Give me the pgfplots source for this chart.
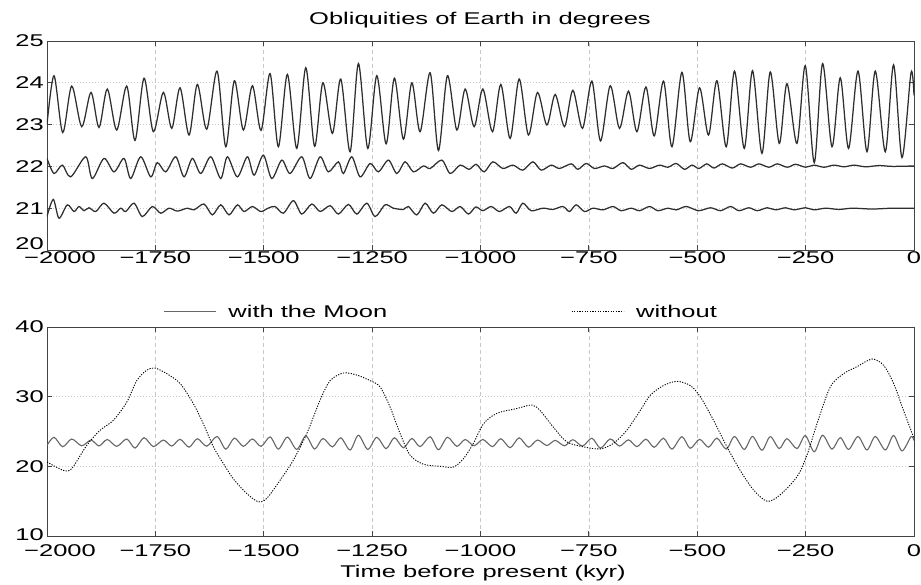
\documentclass[border=0pt]{standalone}
\usepackage{fontspec}
\setmainfont[FakeStretch=1.5]{Liberation Sans}
\usepackage{pgfplots}
\usepackage{pgfplotstable}
\pgfplotsset{compat=1.18}

\definecolor{ln}{HTML}{2E2E2E}
\definecolor{frame}{HTML}{444444}
\definecolor{gridc}{HTML}{C8C8C8}

% obliquity with the Moon (peaks and troughs)
\pgfplotstableread{
x y
-2000 23.00
-1983.8 24.17
-1963.8 22.81
-1943.0 23.92
-1919.9 22.95
-1898.5 23.77
-1880.0 22.93
-1860.9 23.85
-1839.2 22.87
-1816.1 23.92
-1796.9 22.62
-1776.2 24.11
-1754.7 22.83
-1731.6 23.77
-1712.2 22.91
-1693.1 23.88
-1672.3 22.75
-1653.2 23.96
-1631.5 22.89
-1607.7 24.28
-1587.6 22.47
-1567.8 24.05
-1547.0 22.87
-1526.2 23.93
-1506.2 22.86
-1485.4 24.22
-1466.3 22.47
-1445.5 24.20
-1423.8 22.43
-1403.0 24.36
-1382.7 22.48
-1363.6 24.00
-1341.6 22.79
-1322.3 24.09
-1300.8 22.35
-1281.6 24.46
-1260.0 22.43
-1239.2 24.17
-1217.7 22.54
-1198.6 24.11
-1177.8 22.65
-1158.4 24.00
-1139.3 22.83
-1116.2 24.24
-1097.0 22.38
-1076.3 24.17
-1054.6 22.87
-1035.4 23.85
-1014.7 22.95
-994.6 23.85
-972.4 22.83
-953.1 23.96
-931.6 22.67
-910.8 24.09
-889.4 22.75
-868.6 23.77
-846.9 22.99
-827.7 23.72
-806.3 22.95
-786.9 23.82
-764.7 22.91
-743.1 24.04
-723.2 22.61
-700.8 23.93
-679.4 22.91
-658.6 23.80
-639.2 22.83
-618.4 23.90
-599.3 22.73
-577.8 24.04
-558.4 22.47
-535.4 24.25
-516.2 22.59
-494.7 23.88
-474.0 22.75
-454.6 24.05
-433.1 22.47
-414.0 24.28
-391.6 22.43
-372.5 24.29
-350.8 22.31
-331.6 24.26
-310.8 22.55
-293.1 23.98
-270.0 22.55
-250.8 24.41
-230.1 22.09
-210.9 24.46
-189.2 22.47
-170.1 24.12
-150.9 22.43
-129.2 24.28
-108.5 22.35
-89.3 24.28
-66.2 22.35
-47.1 24.43
-27.7 22.21
-6.9 24.24
0 23.70
}\withmoon

\pgfplotstableread{
x y
-2000 22.19
-1983.8 21.83
-1964.7 22.03
-1945.3 21.75
-1910.7 22.23
-1895.5 21.71
-1868.5 22.19
-1845.4 21.87
-1822.3 22.19
-1806.9 21.71
-1783.8 22.23
-1760.7 21.75
-1745.5 22.09
-1726.1 21.87
-1703.0 22.23
-1683.9 21.75
-1664.7 22.19
-1645.3 21.83
-1622.2 22.23
-1599.2 21.71
-1583.9 22.23
-1560.9 21.75
-1537.8 22.23
-1522.3 21.79
-1500.9 22.27
-1481.5 21.71
-1458.4 22.15
-1439.3 21.83
-1412.3 22.23
-1393.1 21.71
-1370.0 22.23
-1350.9 21.87
-1327.8 22.11
-1316.3 21.83
-1296.9 22.23
-1277.7 21.75
-1254.6 22.07
-1235.5 21.87
-1212.4 22.15
-1193.0 21.83
-1173.9 22.11
-1154.7 21.87
-1131.7 22.01
-1116.2 21.95
-1089.2 22.15
-1070.0 21.83
-1047.0 22.03
-1026.2 21.93
-1010.0 22.05
-991.6 21.87
-971.5 22.11
-948.4 21.95
-925.4 22.03
-902.3 21.91
-879.2 22.11
-860.0 21.91
-837.0 22.03
-817.8 21.95
-790.8 22.06
-775.4 21.93
-756.2 22.07
-737.1 21.95
-714.0 22.01
-694.6 21.95
-671.5 22.09
-652.4 21.93
-633.2 22.03
-610.1 21.95
-587.1 22.03
-567.7 21.98
-548.5 22.07
-529.4 21.93
-512.0 22.03
-496.2 21.95
-478.0 22.06
-461.5 21.96
-442.4 22.06
-419.3 21.96
-400.1 22.06
-377.1 21.98
-357.7 22.06
-334.6 21.98
-315.5 22.06
-292.4 21.98
-273.2 22.05
-250.1 21.98
-230.8 22.03
-207.7 21.98
-184.6 22.03
-161.5 21.99
-138.5 22.03
-111.7 21.99
-80.8 22.02
-50.1 22.00
0 22.01
}\middleline

\pgfplotstableread{
x y
-2000 20.80
-1985.5 21.21
-1972.3 20.76
-1953.2 21.08
-1937.7 20.92
-1926.2 21.04
-1914.6 20.94
-1903.1 21.01
-1887.6 20.92
-1868.5 21.12
-1845.4 20.88
-1829.9 21.00
-1818.4 20.92
-1799.2 21.12
-1780.1 20.80
-1757.0 21.04
-1737.6 20.88
-1718.5 21.00
-1699.3 20.93
-1676.2 21.00
-1660.8 20.96
-1637.7 21.10
-1618.6 20.84
-1599.2 21.08
-1580.0 20.84
-1560.9 21.08
-1545.4 20.92
-1526.2 21.04
-1506.9 20.92
-1490.0 21.00
-1473.9 21.04
-1454.7 20.88
-1431.6 21.18
-1412.3 20.86
-1389.2 21.10
-1370.0 20.92
-1346.9 21.06
-1327.8 20.86
-1304.7 21.09
-1285.3 20.86
-1262.3 21.12
-1243.1 20.80
-1220.0 21.08
-1200.9 21.00
-1177.8 20.97
-1166.3 21.04
-1146.9 20.84
-1127.7 21.12
-1108.6 20.88
-1089.2 21.08
-1066.1 20.92
-1047.0 21.04
-1027.8 20.86
-1011.0 21.03
-994.6 20.94
-975.4 21.04
-956.3 20.92
-933.2 21.04
-917.7 20.88
-902.3 21.12
-883.1 20.94
-856.1 21.00
-833.1 20.97
-810.0 21.04
-794.7 20.92
-779.3 21.08
-760.1 20.92
-740.7 21.00
-717.7 20.96
-694.6 21.04
-675.4 20.94
-652.4 21.00
-633.2 20.94
-610.1 21.04
-590.8 20.94
-567.7 21.00
-548.5 20.96
-525.4 21.04
-497.0 20.94
-469.4 21.01
-446.3 20.94
-423.2 21.04
-403.8 20.94
-380.8 21.01
-361.6 20.94
-338.5 21.01
-319.4 20.96
-296.3 21.01
-276.9 20.96
-250.1 21.01
-230.8 20.96
-204.0 21.00
-173.1 20.97
-142.4 21.00
-96.2 20.98
-50.1 21.00
0 21.00
}\lowline

% obliquity without the Moon
\pgfplotstableread{
x y
-2000 20.62
-1962.4 19.43
-1943.0 19.67
-1908.4 23.0
-1877.7 25.17
-1847.0 26.6
-1816.1 29.2
-1793.0 32.3
-1769.9 33.8
-1750.8 34.1
-1723.8 33.3
-1693.1 31.9
-1662.4 29.0
-1639.3 26.1
-1616.2 22.8
-1593.2 20.4
-1570.1 18.2
-1539.2 16.1
-1512.4 14.9
-1493.0 15.4
-1462.3 18.0
-1431.6 20.9
-1400.7 24.7
-1370.0 29.5
-1346.9 32.3
-1316.3 33.4
-1285.3 33.1
-1254.6 32.3
-1231.6 31.4
-1208.5 28.5
-1185.4 24.7
-1162.3 21.6
-1131.7 20.3
-1093.1 20.0
-1062.4 19.9
-1039.3 21.1
-1016.3 23.3
-993.2 26.1
-962.3 27.6
-916.1 28.3
-881.5 28.8
-862.4 28.0
-831.7 25.6
-800.7 23.5
-762.4 22.8
-723.9 22.5
-693.2 23.3
-662.3 25.2
-631.6 28.0
-608.5 30.2
-577.8 31.6
-546.9 32.2
-516.2 31.6
-493.1 30.0
-462.4 26.6
-431.5 22.8
-400.8 19.4
-370.1 16.6
-339.2 15.0
-310.8 15.8
-270.0 18.5
-246.9 21.6
-223.8 26.1
-193.1 31.4
-162.4 33.3
-131.5 34.3
-96.9 35.4
-70.1 34.5
-47.1 31.9
-24.0 28.0
0 24.0
}\nomoon

\pgfplotsset{panel/.style={
  scale only axis, width=867pt, height=209pt,
  anchor=south west,
  xmin=-2000, xmax=0,
  xtick={-2000,-1750,-1500,-1250,-1000,-750,-500,-250,0},
  xticklabels={\hspace*{26pt}−2000,−1750,−1500,−1250,−1000,−750,−500,−250,0},
  tick align=inside, major tick length=5pt,
  tick style={frame, line width=0.8pt},
  axis line style={frame, line width=0.9pt},
  grid=major,
  x grid style={gridc, line width=0.6pt, dash pattern=on 4pt off 3pt},
  y grid style={gridc, line width=0.6pt, dash pattern=on 1pt off 2pt},
  tick label style={font=\fontsize{17}{20}\selectfont, text=black},
  xticklabel style={inner sep=1pt},
  yticklabel style={inner sep=3pt},
}}

\begin{document}
\begin{tikzpicture}
\useasboundingbox (0,0) rectangle (921pt,585pt);

\begin{axis}[panel, at={(47pt,335pt)},
  ymin=20, ymax=25, ytick={20,21,22,23,24,25},
  yticklabels={\raisebox{0pt}[0pt][0pt]{20},21,22,23,24,25}]
\addplot[ln, line width=1.25pt, smooth] table[x=x, y=y] {\withmoon};
\addplot[ln, line width=1.25pt, smooth] table[x=x, y=y] {\middleline};
\addplot[ln, line width=1.25pt, smooth] table[x=x, y=y] {\lowline};
\end{axis}

\begin{axis}[panel, at={(47pt,49pt)},
  ymin=10, ymax=40, ytick={10,20,30,40},
  yticklabels={\raisebox{3pt}{10},20,30,40},
  xticklabel style={yshift=-7pt},
  legend style={draw=none, fill=none, at={(0.134,1.072)}, anchor=west,
    legend columns=2, inner sep=0pt,
    font=\fontsize{17}{20}\selectfont,
    /tikz/every odd column/.append style={column sep=10pt},
    /tikz/every even column/.append style={column sep=182pt}},
  legend image code/.code={\draw[#1] (0pt,0pt) -- (52pt,0pt);}]
\addplot[black!60, line width=1.1pt, smooth] table[x=x, y=y] {\withmoon};
\addlegendentry{with the Moon}
\addplot[black, line width=0.9pt, dash pattern=on 1.2pt off 1.4pt, smooth] table[x=x, y=y] {\nomoon};
\addlegendentry{without}
\end{axis}

\node[font=\fontsize{17}{20}\selectfont] at (480pt,565pt) {Obliquities of Earth in degrees};
\node[font=\fontsize{17}{20}\selectfont] at (483pt,12pt) {Time before present (kyr)};
\end{tikzpicture}
\end{document}
